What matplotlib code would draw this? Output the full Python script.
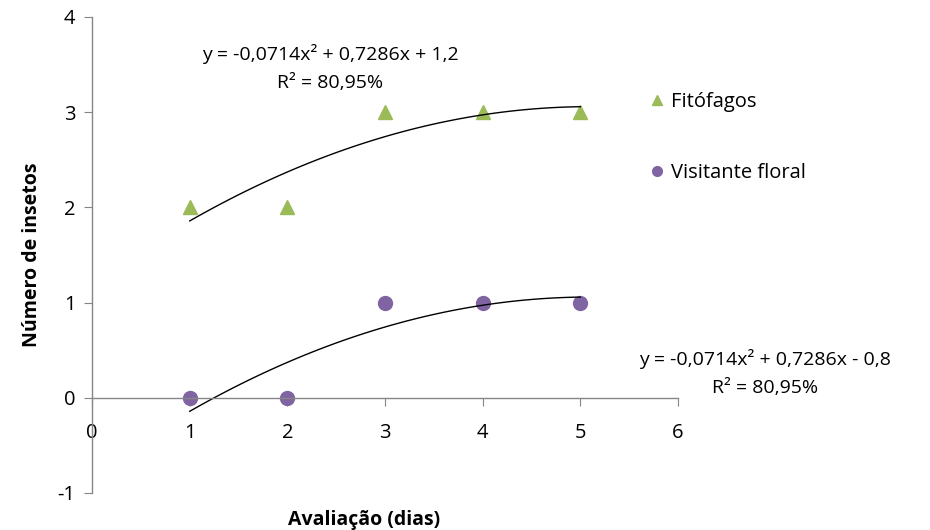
import matplotlib.pyplot as plt
import numpy as np

dias = [1, 2, 3, 4, 5]
fitofagos = [2, 2, 3, 3, 3]
visitante = [0, 0, 1, 1, 1]

eq_fito = ["y = -0,0714x² + 0,7286x + 1,2", "R² = 80,95%"]
eq_visit = ["y = -0,0714x² + 0,7286x - 0,8", "R² = 80,95%"]

verde = '#9BBB59'
roxo = '#8064A2'
cinza = '#868686'

plt.rcParams['font.family'] = ['Open Sans', 'DejaVu Sans']
plt.rcParams['axes.unicode_minus'] = False

fig = plt.figure(figsize=(9.3, 5.3), dpi=100)
ax = fig.add_axes([0.099, 0.07, 0.63, 0.898])

ax.plot(dias, fitofagos, linestyle='none', marker='^', color=verde, markersize=10, label='Fitófagos')
ax.plot(dias, visitante, linestyle='none', marker='o', color=roxo, markersize=10, label='Visitante floral')

# tendencia polinomial de ordem 2
xs = np.linspace(1, 5, 100)
for serie in (fitofagos, visitante):
    coef = np.polyfit(dias, serie, 2)
    ax.plot(xs, np.polyval(coef, xs), color='black', linewidth=1.0)

ax.set_xlim(0, 6)
ax.set_ylim(-1, 4)
ax.set_xticks(range(0, 7))
ax.set_yticks(range(-1, 5))

ax.spines['top'].set_visible(False)
ax.spines['right'].set_visible(False)
ax.spines['bottom'].set_position(('data', 0))
for s in ('left', 'bottom'):
    ax.spines[s].set_color(cinza)
    ax.spines[s].set_linewidth(1.0)

ax.tick_params(axis='both', colors=cinza, labelcolor='black', labelsize=14.5, length=6, direction='out')
ax.tick_params(axis='x', pad=12)
ax.tick_params(axis='y', pad=6)

ax.set_xlabel('Avaliação (dias)', fontsize=14, fontweight='bold')
ax.xaxis.set_label_coords(0.465, -0.036)
ax.set_ylabel('Número de insetos', fontsize=14, fontweight='bold')
ax.yaxis.set_label_coords(-0.085, 0.5)

ax.text(330 / 930, 1 - 68 / 530, '\n'.join(eq_fito), transform=fig.transFigure,
        ha='center', va='center', fontsize=14, linespacing=1.75)
ax.text(765 / 930, 1 - 373 / 530, '\n'.join(eq_visit), transform=fig.transFigure,
        ha='center', va='center', fontsize=14, linespacing=1.75)

leg = ax.legend(loc='upper left', bbox_to_anchor=(0.68, 0.86), bbox_transform=fig.transFigure,
                frameon=False, fontsize=14.5, handlelength=0.6, handletextpad=0.4,
                labelspacing=2.5, markerscale=0.7)

fig.savefig('out.png', dpi=100)
